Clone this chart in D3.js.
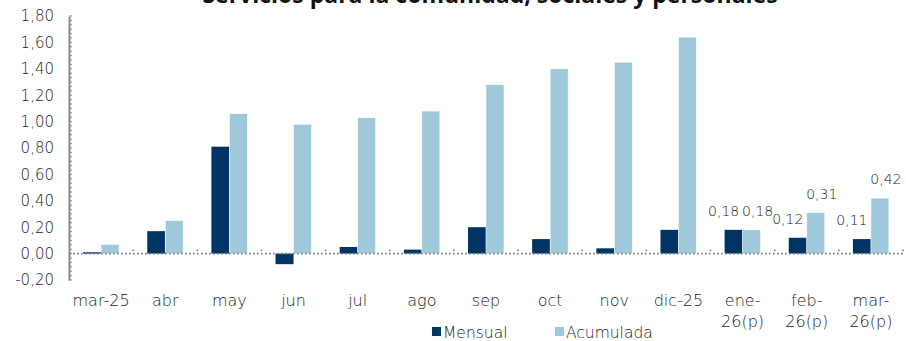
<!DOCTYPE html>
<html>
<head>
<meta charset="utf-8">
<script src="https://cdn.jsdelivr.net/npm/d3@7"></script>
<style>
  html, body { margin: 0; padding: 0; background: #fff; }
  svg { display: block; font-family: "DejaVu Sans", "Open Sans", sans-serif; }
</style>
</head>
<body>
<svg id="chart" width="906" height="341"></svg>
<script>
// Variación mensual y acumulada del índice, servicios para la comunidad
const categories = ["mar-25", "abr", "may", "jun", "jul", "ago", "sep", "oct", "nov", "dic-25", "ene-\n26(p)", "feb-\n26(p)", "mar-\n26(p)"];
const mensual    = [0.01, 0.17, 0.81, -0.08, 0.05, 0.03, 0.20, 0.11, 0.04, 0.18, 0.18, 0.12, 0.11];
const acumulada  = [0.07, 0.25, 1.06, 0.98, 1.03, 1.08, 1.28, 1.40, 1.45, 1.64, 0.18, 0.31, 0.42];
const seriesNames = ["Mensual", "Acumulada"];
const labelledCategories = ["ene-\n26(p)", "feb-\n26(p)", "mar-\n26(p)"];
const yTicks = [-0.2, 0, 0.2, 0.4, 0.6, 0.8, 1.0, 1.2, 1.4, 1.6, 1.8];
const title = "Servicios para la comunidad, sociales y personales";

const colors = { Mensual: "#003463", Acumulada: "#9fc8da" };
const fmt = v => d3.format(".2f")(v).replace(".", ",").replace("−", "-");
const textColor = "#222";
const labelWeight = 200;

const svg = d3.select("#chart");
const plotLeft = 69, plotRight = 903, plotTop = 16, plotBottom = 280;

const x = d3.scaleBand().domain(categories).range([plotLeft, plotRight]).padding(0);
const pairWidth = 36;
const x1 = d3.scaleBand().domain(seriesNames).range([0, pairWidth]).padding(0);
const y = d3.scaleLinear().domain([-0.2, 1.8]).range([plotBottom, plotTop]);

// Title (runs off the top edge of the panel)
svg.append("text")
  .attr("x", 490).attr("y", 3)
  .attr("text-anchor", "middle")
  .attr("font-family", "'Open Sans', sans-serif")
  .attr("font-size", 23).attr("font-weight", "bold")
  .attr("fill", "#111")
  .text(title);

// Y axis
const yAxis = d3.axisLeft(y).tickValues(yTicks).tickSize(0).tickPadding(15)
  .tickFormat(fmt);
const gy = svg.append("g").attr("transform", `translate(${plotLeft},0)`).call(yAxis);
gy.select(".domain").attr("stroke", "#8a8a8a").attr("stroke-width", 2);
gy.selectAll("text").attr("font-size", 15).attr("fill", textColor)
  .attr("font-weight", labelWeight)
  .attr("font-family", "'DejaVu Sans', sans-serif");

// Minor ticks on the Y axis
const minorStep = 0.2 / 6;
const minor = d3.range(0, Math.round(2 / minorStep) + 1).map(i => -0.2 + i * minorStep);
svg.append("g").selectAll("line").data(minor).join("line")
  .attr("x1", plotLeft).attr("x2", plotLeft + 3)
  .attr("y1", d => y(d)).attr("y2", d => y(d))
  .attr("stroke", "#8a8a8a").attr("stroke-width", 1);

// Bars
const rows = categories.map((c, i) => ({ cat: c, Mensual: mensual[i], Acumulada: acumulada[i] }));
const groups = svg.append("g").selectAll("g").data(rows).join("g")
  .attr("transform", d => `translate(${x(d.cat) + (x.bandwidth() - pairWidth) / 2},0)`);
groups.selectAll("rect")
  .data(d => seriesNames.map(s => ({ s, v: d[s] })))
  .join("rect")
  .attr("x", d => x1(d.s))
  .attr("width", x1.bandwidth())
  .attr("y", d => y(Math.max(0, d.v)))
  .attr("height", d => Math.abs(y(d.v) - y(0)))
  .attr("fill", d => colors[d.s])
  .attr("stroke", d => d.s === "Acumulada" ? "#fff" : "none")
  .attr("stroke-width", 0.6);

// Zero line (dotted) with category boundary ticks
svg.append("line")
  .attr("x1", plotLeft).attr("x2", plotRight)
  .attr("y1", y(0)).attr("y2", y(0))
  .attr("stroke", "#7a7a7a").attr("stroke-width", 1.6)
  .attr("stroke-dasharray", "1.6,2.4");
svg.append("g").selectAll("line").data(categories.slice(1).concat(["__end"])).join("line")
  .attr("x1", d => d === "__end" ? plotRight : x(d))
  .attr("x2", d => d === "__end" ? plotRight : x(d))
  .attr("y1", y(0) - 4).attr("y2", y(0) - 2.5)
  .attr("stroke", "#7a7a7a").attr("stroke-width", 1.6);

// Category labels (two lines where needed)
const xl = svg.append("g").selectAll("text").data(categories).join("text")
  .attr("x", d => x(d) + x.bandwidth() / 2)
  .attr("y", 306)
  .attr("text-anchor", "middle")
  .attr("font-size", 16).attr("font-weight", labelWeight).attr("fill", textColor);
xl.each(function(d) {
  const lines = d.split("\n");
  d3.select(this).selectAll("tspan").data(lines).join("tspan")
    .attr("x", x(d) + x.bandwidth() / 2)
    .attr("dy", (l, i) => i === 0 ? 0 : 21)
    .text(l => l);
});

// Value labels on the latest months
const nudges = { Mensual: -10, Acumulada: 6 };
const labelled = rows.filter(r => labelledCategories.includes(r.cat));
svg.append("g").selectAll("g").data(labelled).join("g")
  .attr("transform", d => `translate(${x(d.cat) + (x.bandwidth() - pairWidth) / 2},0)`)
  .selectAll("text")
  .data(d => seriesNames.map(s => ({ s, v: d[s] })))
  .join("text")
  .attr("x", d => x1(d.s) + x1.bandwidth() / 2 + nudges[d.s])
  .attr("y", d => y(d.v) - 14)
  .attr("text-anchor", "middle")
  .attr("font-size", 14).attr("font-weight", labelWeight).attr("fill", textColor)
  .text(d => fmt(d.v));

// Legend
const legend = svg.append("g").attr("transform", "translate(432,0)");
const items = [{ s: "Mensual", dx: 0 }, { s: "Acumulada", dx: 123 }];
items.forEach(it => {
  legend.append("rect").attr("x", it.dx).attr("y", 327).attr("width", 9).attr("height", 9)
    .attr("fill", colors[it.s]);
  legend.append("text").attr("x", it.dx + 11).attr("y", 338)
    .attr("font-size", 15.5).attr("font-weight", labelWeight).attr("fill", textColor).text(it.s);
});
</script>
</body>
</html>
